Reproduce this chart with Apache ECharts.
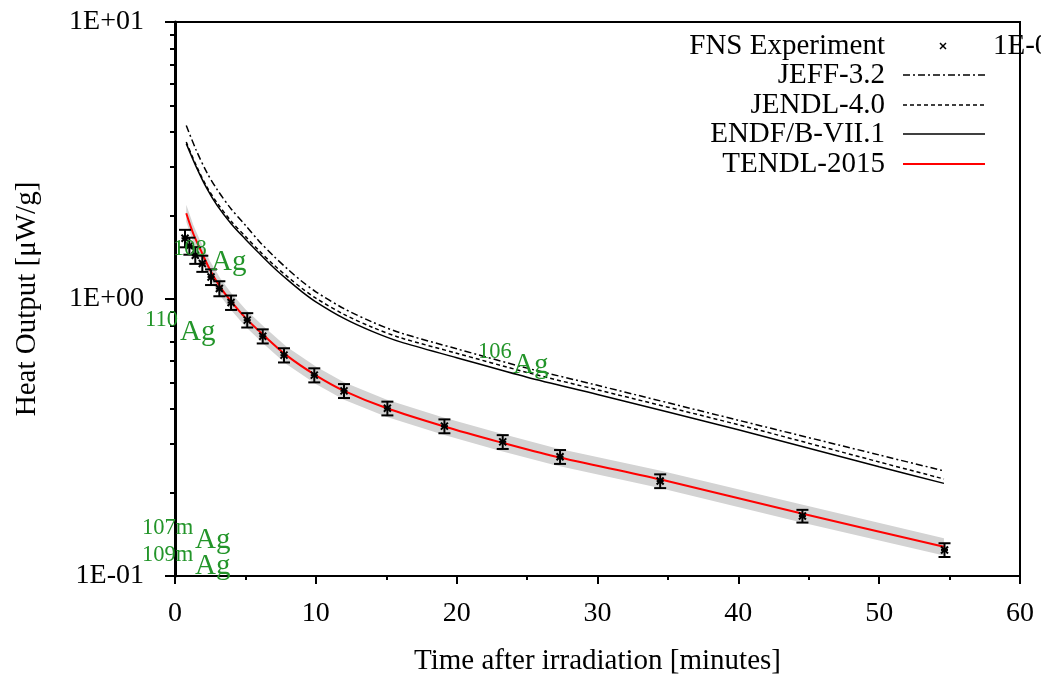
<!DOCTYPE html>
<html><head><meta charset="utf-8">
<script src="https://cdn.jsdelivr.net/npm/echarts@6/dist/echarts.min.js"></script>
<style>html,body{margin:0;padding:0;background:#fff}#c{width:1041px;height:674px}</style>
</head><body><div id="c"></div>
<script>
// ---- data ----
const expTime = [0.71, 1.02, 1.44, 1.94, 2.56, 3.15, 3.98, 5.13, 6.23, 7.74, 9.89, 12.0, 15.08, 19.13, 23.27, 27.34, 34.45, 44.55, 54.64];
const expHeat = [1.657, 1.555, 1.439, 1.343, 1.201, 1.091, 0.971, 0.839, 0.734, 0.627, 0.531, 0.466, 0.403, 0.3476, 0.305, 0.2694, 0.2202, 0.1646, 0.1242];
const expErr  = [0.12, 0.11, 0.10, 0.09, 0.078, 0.068, 0.058, 0.05, 0.043, 0.037, 0.031, 0.027, 0.023, 0.02, 0.0175, 0.0155, 0.0126, 0.0087, 0.0071];

const curveTime = [0.8, 1.5, 2.25, 3, 4, 5, 6, 7, 8, 9, 10, 12, 14, 16, 20, 25, 30, 40, 50, 54.6];
const jeff32  = [4.227, 3.450, 2.870, 2.480, 2.110, 1.845, 1.611, 1.429, 1.282, 1.159, 1.062, 0.923, 0.826, 0.755, 0.661, 0.563, 0.488, 0.365, 0.2735, 0.2396];
const jendl40 = [3.686, 3.040, 2.545, 2.220, 1.905, 1.683, 1.489, 1.330, 1.202, 1.094, 1.007, 0.880, 0.791, 0.725, 0.637, 0.543, 0.470, 0.3516, 0.258, 0.224];
const endf71  = [3.639, 3.006, 2.512, 2.173, 1.866, 1.644, 1.459, 1.300, 1.172, 1.064, 0.977, 0.851, 0.764, 0.700, 0.614, 0.522, 0.452, 0.337, 0.248, 0.216];

const tendlTime  = [0.8, 1.3, 1.8, 2.5, 3.2, 4, 5, 6.3, 7.9, 10, 12, 15, 19, 23, 27, 34.5, 44.5, 54.6];
const tendl2015  = [2.04, 1.72, 1.51, 1.27, 1.106, 0.978, 0.855, 0.74, 0.627, 0.53, 0.466, 0.404, 0.348, 0.305, 0.27, 0.223, 0.168, 0.1275];
const tendlUpper = [2.19, 1.85, 1.62, 1.365, 1.19, 1.05, 0.919, 0.796, 0.674, 0.570, 0.501, 0.434, 0.374, 0.328, 0.290, 0.240, 0.181, 0.137];
const tendlLower = [1.90, 1.60, 1.405, 1.18, 1.03, 0.91, 0.795, 0.688, 0.583, 0.493, 0.433, 0.376, 0.324, 0.284, 0.251, 0.2075, 0.156, 0.1186];

const xTickValues = [0, 10, 20, 30, 40, 50, 60];
const yTickValues = [0.1, 1, 10];
const yTickLabels = ['1E-01', '1E+00', '1E+01'];
const yMinorTicks = [0.2, 0.3, 0.4, 0.5, 0.6, 0.7, 0.8, 0.9, 2, 3, 4, 5, 6, 7, 8, 9];

const legendNames = ['FNS Experiment', 'JEFF-3.2', 'JENDL-4.0', 'ENDF/B-VII.1', 'TENDL-2015'];

// ---- build ----
const zip = (xs, ys) => xs.map((x, i) => [x, ys[i]]);
const FONT = '"Liberation Serif", "Times New Roman", serif';
const GREEN = '#23952a';

const chart = echarts.init(document.getElementById('c'), null, {renderer: 'canvas'});

const bandData = tendlTime.map((t, i) => [t, tendlLower[i], tendlUpper[i]]);
const expData = expTime.map((t, i) => [t, expHeat[i], expErr[i]]);

function renderBand(params, api) {
  if (params.dataIndex !== 0) return null;
  const up = [], lo = [];
  for (let i = 0; i < bandData.length; i++) {
    up.push(api.coord([bandData[i][0], bandData[i][2]]));
    lo.push(api.coord([bandData[i][0], bandData[i][1]]));
  }
  const pts = up.concat(lo.reverse());
  return { type: 'polygon', shape: { points: pts, smooth: 0 }, style: { fill: '#d3d3d3', stroke: null } };
}

function renderErr(params, api) {
  const x = api.value(0), y = api.value(1), e = api.value(2);
  const c = api.coord([x, y]);
  const t = api.coord([x, y + e]);
  const b = api.coord([x, y - e]);
  const cw = 6, m = 3.5;
  const st = { stroke: '#000', lineWidth: 2 };
  return { type: 'group', children: [
    { type: 'line', shape: { x1: c[0], y1: t[1], x2: c[0], y2: b[1] }, style: st },
    { type: 'line', shape: { x1: c[0] - cw, y1: t[1], x2: c[0] + cw, y2: t[1] }, style: st },
    { type: 'line', shape: { x1: c[0] - cw, y1: b[1], x2: c[0] + cw, y2: b[1] }, style: st },
    { type: 'line', shape: { x1: c[0] - m, y1: c[1] - m, x2: c[0] + m, y2: c[1] + m }, style: st },
    { type: 'line', shape: { x1: c[0] - m, y1: c[1] + m, x2: c[0] + m, y2: c[1] - m }, style: st },
    { type: 'line', shape: { x1: c[0] - m, y1: c[1], x2: c[0] + m, y2: c[1] }, style: st }
  ]};
}

const lineBase = { type: 'line', showSymbol: false, symbol: 'none', smooth: 0.3, animation: false, silent: true };

const legendY = [46, 75, 105, 134, 164];
const legendStyles = [
  null,
  { stroke: '#000', lineWidth: 1.5, lineDash: [7, 3, 2, 3] },
  { stroke: '#000', lineWidth: 1.5, lineDash: [4, 3] },
  { stroke: '#000', lineWidth: 1.5 },
  { stroke: '#ff0000', lineWidth: 2 }
];
const graphics = [];
legendNames.forEach((n, i) => {
  graphics.push({ type: 'text', x: 885, y: legendY[i], style: { text: n, font: '29px ' + FONT, fill: '#000', align: 'right', verticalAlign: 'middle' } });
  if (legendStyles[i]) {
    graphics.push({ type: 'line', shape: { x1: 903, y1: legendY[i], x2: 985, y2: legendY[i] }, style: legendStyles[i] });
  } else {
    graphics.push({ type: 'line', shape: { x1: 940, y1: legendY[i] - 3, x2: 946, y2: legendY[i] + 3 }, style: { stroke: '#000', lineWidth: 1.5 } });
    graphics.push({ type: 'line', shape: { x1: 940, y1: legendY[i] + 3, x2: 946, y2: legendY[i] - 3 }, style: { stroke: '#000', lineWidth: 1.5 } });
  }
});
graphics.push({ type: 'text', x: 993, y: 46, style: { text: '1E-0', font: '29px ' + FONT, fill: '#000', align: 'left', verticalAlign: 'middle' } });

const isoLabels = [
  { sup: '108', sx: 173, sy: 249, ax: 211, ay: 262 },
  { sup: '110', sx: 145, sy: 320, ax: 180, ay: 332 },
  { sup: '106', sx: 478, sy: 352, ax: 513, ay: 365 },
  { sup: '107m', sx: 142, sy: 528, ax: 195, ay: 540 },
  { sup: '109m', sx: 142, sy: 555, ax: 195, ay: 566 }
];
isoLabels.forEach(l => {
  graphics.push({ type: 'text', x: l.sx, y: l.sy, z: 100, style: { text: l.sup, font: '22.5px ' + FONT, fill: GREEN, align: 'left', verticalAlign: 'middle' } });
  graphics.push({ type: 'text', x: l.ax, y: l.ay, z: 100, style: { text: 'Ag', font: '29px ' + FONT, fill: GREEN, align: 'left', verticalAlign: 'middle' } });
});

const option = {
  backgroundColor: '#fff',
  animation: false,
  grid: { left: 175, right: 21, top: 22, bottom: 98, show: true, borderColor: '#000', borderWidth: 2, outerBoundsMode: 'none', containLabel: false },
  xAxis: {
    type: 'value', min: 0, max: 60, interval: 10,
    name: 'Time after irradiation [minutes]', nameLocation: 'middle', nameGap: 71,
    nameTextStyle: { fontFamily: FONT, fontSize: 29, color: '#000' },
    axisLine: { show: true, lineStyle: { color: '#000', width: 2 } },
    axisTick: { show: true, inside: false, length: 8, lineStyle: { color: '#000', width: 2 } },
    minorTick: { show: true, splitNumber: 2, length: 4, lineStyle: { color: '#000', width: 2 } },
    axisLabel: { show: true, margin: 24, fontFamily: FONT, fontSize: 28, color: '#000', customValues: xTickValues },
    splitLine: { show: false }
  },
  yAxis: [{
    type: 'log', logBase: 10, min: 0.1, max: 10,
    name: 'Heat Output [\u03bcW/g]', nameLocation: 'middle', nameGap: 133, nameRotate: 90,
    nameTextStyle: { fontFamily: FONT, fontSize: 29, color: '#000' },
    axisLine: { show: true, lineStyle: { color: '#000', width: 3 } },
    axisTick: { show: true, inside: false, length: 10, lineStyle: { color: '#000', width: 2 } },
    axisLabel: { show: true, margin: 31, fontFamily: FONT, fontSize: 28, color: '#000',
      formatter: v => yTickLabels[Math.round(Math.log10(v)) + 1] },
    splitLine: { show: false }
  }, {
    type: 'log', logBase: 10, min: 0.1, max: 10, position: 'left',
    axisLine: { show: false },
    axisTick: { show: true, inside: false, length: 5, customValues: yMinorTicks, lineStyle: { color: '#000', width: 2 } },
    axisLabel: { show: false },
    splitLine: { show: false }
  }],
  series: [
    { type: 'custom', name: 'band', renderItem: renderBand, data: bandData, encode: { x: 0, y: [1, 2] }, z: 1, silent: true, clip: true },
    Object.assign({}, lineBase, { name: 'JEFF-3.2', data: zip(curveTime, jeff32), lineStyle: { color: '#000', width: 1.5, type: [7, 3, 2, 3] }, z: 2 }),
    Object.assign({}, lineBase, { name: 'JENDL-4.0', data: zip(curveTime, jendl40), lineStyle: { color: '#000', width: 1.5, type: [4, 3] }, z: 2 }),
    Object.assign({}, lineBase, { name: 'ENDF/B-VII.1', data: zip(curveTime, endf71), lineStyle: { color: '#000', width: 1.5 }, z: 2 }),
    Object.assign({}, lineBase, { name: 'TENDL-2015', data: zip(tendlTime, tendl2015), lineStyle: { color: '#ff0000', width: 2 }, z: 3 }),
    { type: 'custom', name: 'FNS Experiment', renderItem: renderErr, data: expData, encode: { x: 0, y: [1, 2] }, z: 4, silent: true }
  ],
  graphic: graphics
};
chart.setOption(option);
</script></body></html>
